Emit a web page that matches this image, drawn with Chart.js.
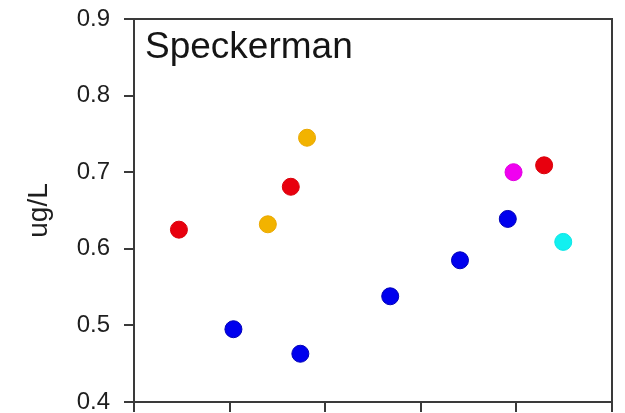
<!DOCTYPE html>
<html>
<head>
<meta charset="utf-8">
<script src="https://cdn.jsdelivr.net/npm/chart.js@4.4.1/dist/chart.umd.min.js"></script>
<style>
  body { margin: 0; background: #fff; }
  #chart { display: block; }
</style>
</head>
<body>
<canvas id="chart" width="625" height="413"></canvas>
<script>
// sample positions (x) and concentrations (ug/L), grouped by marker colour
const redX = [0.47, 1.64, 4.29];
const redY = [0.625, 0.681, 0.709];
const orangeX = [1.40, 1.81];
const orangeY = [0.632, 0.745];
const blueX = [1.04, 1.74, 2.68, 3.41, 3.91];
const blueY = [0.495, 0.463, 0.538, 0.585, 0.639];
const magentaX = [3.97];
const magentaY = [0.700];
const cyanX = [4.49];
const cyanY = [0.609];

const xTicks = [0, 1, 2, 3, 4, 5];
const yTicks = [0.4, 0.5, 0.6, 0.7, 0.8, 0.9];
const panelLabel = 'Speckerman';
const yTitle = 'ug/L';

const toPoints = (xs, ys) => xs.map((x, i) => ({ x: x, y: ys[i] }));

const makeSet = (label, xs, ys, fill, edge) => ({
  label: label,
  data: toPoints(xs, ys),
  backgroundColor: fill,
  borderColor: edge,
  borderWidth: 1,
  pointRadius: 8.5,
  pointHoverRadius: 8.5
});

const axisColor = '#3a3a3a';
const fontFamily = '"Liberation Sans", Arial, sans-serif';

// closes the box on top and right, and writes the panel name
const framePlugin = {
  id: 'frame',
  afterDraw(chart) {
    const { ctx, chartArea } = chart;
    ctx.save();
    ctx.strokeStyle = axisColor;
    ctx.lineWidth = 2;
    ctx.beginPath();
    ctx.moveTo(chartArea.left, chartArea.top);
    ctx.lineTo(chartArea.right, chartArea.top);
    ctx.lineTo(chartArea.right, chartArea.bottom);
    ctx.stroke();
    ctx.fillStyle = '#151515';
    ctx.font = '37px ' + fontFamily;
    ctx.textBaseline = 'alphabetic';
    ctx.textAlign = 'left';
    ctx.fillText(panelLabel, chartArea.left + 11, chartArea.top + 39);
    ctx.restore();
  }
};

new Chart(document.getElementById('chart'), {
  type: 'scatter',
  data: {
    datasets: [
      makeSet('red', redX, redY, '#e8000e', '#d8000a'),
      makeSet('orange', orangeX, orangeY, '#f2b300', '#eaa800'),
      makeSet('blue', blueX, blueY, '#0000ee', '#0000b8'),
      makeSet('magenta', magentaX, magentaY, '#f000f0', '#e000e0'),
      makeSet('cyan', cyanX, cyanY, '#12f0f0', '#0ae6e6')
    ]
  },
  options: {
    responsive: false,
    animation: false,
    layout: { padding: { top: 19, right: 13, left: 0, bottom: 0 } },
    plugins: {
      legend: { display: false },
      tooltip: { enabled: false }
    },
    scales: {
      x: {
        type: 'linear',
        min: xTicks[0],
        max: xTicks[xTicks.length - 1],
        afterBuildTicks: (scale) => { scale.ticks = xTicks.map(v => ({ value: v })); },
        ticks: { display: false },
        grid: { drawOnChartArea: false, drawTicks: true, tickLength: 10, color: axisColor, lineWidth: 2 },
        border: { display: true, color: axisColor, width: 2 },
        afterFit: (scale) => {
          scale.height = 11;
          scale.paddingLeft = 0;
          scale.paddingRight = 0;
        }
      },
      y: {
        type: 'linear',
        min: yTicks[0],
        max: yTicks[yTicks.length - 1],
        afterBuildTicks: (scale) => { scale.ticks = yTicks.map(v => ({ value: v })); },
        ticks: {
          padding: 14,
          color: '#1e1e1e',
          font: { family: fontFamily, size: 24 },
          callback: (v) => Number(v).toFixed(1)
        },
        grid: { drawOnChartArea: false, drawTicks: true, tickLength: 10, color: axisColor, lineWidth: 2 },
        border: { display: true, color: axisColor, width: 2 },
        title: {
          display: true,
          text: yTitle,
          color: '#1e1e1e',
          font: { family: fontFamily, size: 28 },
          padding: { top: 22, bottom: 0 }
        },
        afterFit: (scale) => {
          scale.width = 134;
          scale.paddingTop = 0;
          scale.paddingBottom = 0;
        }
      }
    }
  },
  plugins: [framePlugin]
});
</script>
</body>
</html>
